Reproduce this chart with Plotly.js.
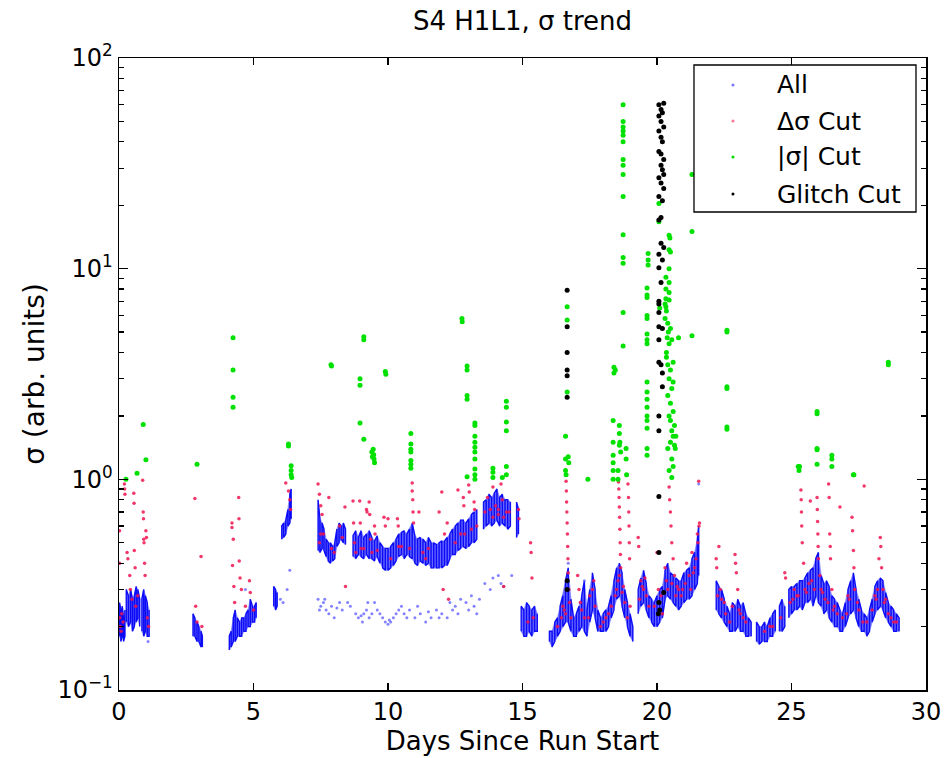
<!DOCTYPE html>
<html><head><meta charset="utf-8">
<script src="https://cdn.plot.ly/plotly-3.0.1.min.js"></script>
<style>html,body{margin:0;padding:0;background:#fff}#chart{width:945px;height:758px}</style>
</head><body><div id="chart"></div>
<script>
// ---- "All" samples: per-time range of the dense band (null = gap in data) ----
const bandT = [0.02,0.07,0.12,0.17,0.22,null,
 0.27,0.35,0.43,0.5,0.57,0.64,0.7,0.77,null,
 0.85,0.92,0.98,1.05,1.12,null,
 2.75,2.82,2.9,2.97,3.05,3.1,null,
 4.1,4.17,4.25,4.32,4.4,4.48,4.56,4.64,4.72,4.8,4.88,4.96,5.04,5.1,null,
 5.75,5.82,5.88,null,
 6.05,6.12,6.2,6.28,6.35,6.4,null,
 7.4,7.47,7.55,7.62,7.7,7.78,7.86,7.94,8.02,8.1,8.18,8.26,8.34,8.42,null,
 8.7,8.8,8.9,9.0,9.1,9.2,9.3,9.4,9.5,9.6,9.7,9.8,9.9,10.0,10.1,10.2,10.3,10.4,10.5,10.6,10.7,10.8,10.9,11.0,11.1,11.2,11.3,11.4,11.5,11.6,11.7,11.8,11.9,12.0,12.1,12.2,12.3,12.4,12.5,12.6,12.7,12.8,12.9,13.0,13.1,13.2,13.3,null,
 13.55,13.65,13.75,13.85,13.95,14.05,14.15,14.25,14.35,14.45,14.55,null,
 14.78,14.85,null,
 14.95,15.05,15.15,15.25,15.35,15.45,15.55,null,
 16.0,16.1,16.2,16.3,16.4,16.5,16.6,16.7,16.8,16.9,17.0,17.1,17.2,17.3,17.4,17.5,17.6,17.7,17.8,17.9,18.0,18.1,18.2,18.3,18.4,18.5,18.6,18.7,18.8,18.9,19.0,19.1,null,
 19.3,19.4,19.5,19.6,19.7,19.8,19.9,20.0,20.1,20.2,20.3,20.4,20.5,20.6,20.7,20.8,20.9,21.0,21.1,21.2,21.3,21.4,21.5,21.55,null,
 22.2,22.3,22.4,22.5,22.6,22.7,22.8,22.9,23.0,23.1,23.2,23.3,23.4,23.5,null,
 23.7,23.8,23.9,24.0,24.1,24.2,24.3,24.4,null,
 24.55,24.65,24.75,null,
 24.9,25.0,25.1,25.2,25.3,25.4,25.5,25.6,25.7,25.8,25.9,26.0,26.1,26.2,26.3,26.4,26.5,26.6,26.7,26.8,26.9,27.0,27.1,27.2,27.3,27.4,27.5,27.6,27.7,27.8,27.9,28.0,28.1,28.2,28.3,28.4,28.5,28.6,28.7,28.8,28.9,29.0];
const bandLo = [0.18,0.17,0.18,0.17,0.18,null,
 0.21,0.20,0.21,0.19,0.20,0.21,0.22,0.20,null,
 0.19,0.18,0.19,0.18,0.18,null,
 0.18,0.18,0.17,0.17,0.16,0.16,null,
 0.155,0.16,0.17,0.17,0.18,0.18,0.18,0.19,0.19,0.20,0.20,0.21,0.21,0.22,null,
 0.25,0.24,0.25,null,
 0.52,0.53,0.55,0.60,0.62,0.65,null,
 0.46,0.45,0.47,0.46,0.43,0.41,0.40,0.41,0.42,0.48,0.50,0.52,0.50,0.49,null,
 0.43,0.42,0.44,0.43,0.42,0.44,0.42,0.42,0.41,0.43,0.40,0.38,0.37,0.37,0.38,0.39,0.41,0.43,0.44,0.42,0.44,0.43,0.42,0.40,0.39,0.41,0.40,0.39,0.40,0.38,0.38,0.38,0.38,0.38,0.39,0.39,0.42,0.44,0.44,0.46,0.47,0.48,0.47,0.48,0.50,0.50,0.52,null,
 0.58,0.60,0.62,0.60,0.62,0.64,0.60,0.62,0.60,0.58,0.60,null,
 0.53,0.55,null,
 0.19,0.18,0.18,0.19,0.18,0.19,0.19,null,
 0.17,0.16,0.17,0.18,0.19,0.20,0.21,0.21,0.19,0.18,0.18,0.19,0.20,0.19,0.18,0.21,0.24,0.22,0.19,0.19,0.19,0.19,0.20,0.22,0.24,0.27,0.28,0.25,0.22,0.20,0.18,0.17,null,
 0.23,0.25,0.26,0.24,0.22,0.21,0.20,0.20,0.21,0.22,0.27,0.28,0.27,0.26,0.25,0.24,0.25,0.26,0.27,0.27,0.28,0.30,0.32,0.35,null,
 0.24,0.23,0.22,0.21,0.20,0.19,0.19,0.19,0.20,0.19,0.19,0.18,0.18,0.18,null,
 0.17,0.165,0.17,0.17,0.17,0.18,0.18,0.19,null,
 0.19,0.19,0.20,null,
 0.22,0.23,0.24,0.24,0.25,0.24,0.26,0.26,0.27,0.25,0.28,0.26,0.25,0.23,0.24,0.22,0.21,0.20,0.20,0.19,0.19,0.20,0.22,0.23,0.24,0.22,0.20,0.19,0.19,0.18,0.19,0.21,0.23,0.24,0.25,0.24,0.22,0.21,0.20,0.19,0.19,0.19];
const bandHi = [0.26,0.24,0.25,0.22,0.24,null,
 0.30,0.28,0.30,0.27,0.28,0.31,0.30,0.27,null,
 0.27,0.30,0.28,0.26,0.24,null,
 0.23,0.22,0.21,0.20,0.19,0.18,null,
 0.18,0.19,0.22,0.24,0.22,0.21,0.22,0.22,0.23,0.24,0.27,0.25,0.25,0.26,null,
 0.31,0.30,0.29,null,
 0.60,0.62,0.64,0.72,0.85,0.90,null,
 0.80,0.65,0.62,0.58,0.52,0.50,0.50,0.48,0.50,0.58,0.62,0.60,0.62,0.58,null,
 0.54,0.57,0.53,0.57,0.53,0.55,0.57,0.53,0.51,0.54,0.50,0.48,0.47,0.47,0.48,0.50,0.52,0.55,0.56,0.57,0.55,0.58,0.62,0.54,0.52,0.53,0.52,0.50,0.53,0.50,0.50,0.49,0.50,0.51,0.51,0.53,0.55,0.58,0.60,0.62,0.64,0.64,0.62,0.65,0.68,0.70,0.72,null,
 0.78,0.80,0.85,0.82,0.86,0.90,0.82,0.85,0.80,0.80,0.78,null,
 0.78,0.72,null,
 0.25,0.24,0.26,0.25,0.24,0.25,0.23,null,
 0.19,0.19,0.21,0.22,0.25,0.28,0.33,0.38,0.27,0.22,0.23,0.25,0.28,0.33,0.24,0.30,0.36,0.30,0.24,0.22,0.23,0.24,0.25,0.28,0.33,0.38,0.40,0.36,0.30,0.26,0.23,0.20,null,
 0.30,0.34,0.37,0.32,0.28,0.27,0.26,0.28,0.30,0.31,0.37,0.40,0.36,0.35,0.34,0.33,0.33,0.36,0.37,0.38,0.42,0.45,0.52,0.60,null,
 0.33,0.31,0.30,0.27,0.25,0.23,0.26,0.25,0.27,0.25,0.26,0.23,0.22,0.21,null,
 0.21,0.20,0.20,0.21,0.20,0.22,0.23,0.24,null,
 0.25,0.27,0.25,null,
 0.30,0.31,0.31,0.32,0.33,0.33,0.34,0.36,0.37,0.38,0.42,0.45,0.35,0.32,0.33,0.31,0.28,0.27,0.26,0.24,0.23,0.26,0.30,0.33,0.36,0.30,0.27,0.24,0.23,0.22,0.24,0.27,0.31,0.33,0.34,0.33,0.29,0.26,0.25,0.24,0.23,0.22];

// ---- "All" isolated samples ----
const allX = [6.0,6.1,6.25,6.35,
 7.4,7.5,7.6,7.7,7.8,7.9,8.0,8.2,8.3,8.5,8.8,8.9,9.0,9.1,9.2,9.3,9.4,9.5,9.6,9.8,
 9.9,10.0,10.1,10.2,10.4,10.5,10.6,10.8,11.0,11.2,11.4,11.6,11.8,12.0,12.2,12.4,12.5,12.7,12.9,13.0,
 13.2,13.4,13.6,13.8,13.9,14.1,14.2,14.3,14.6,1.08,4.7,16.7,17.3,21.55,
 7.45,7.65,8.1,8.6,9.05,9.25,9.7,10.05,10.3,10.7,11.1,11.5,11.9,12.3,12.6,13.1,13.3];
const allY = [0.27,0.26,0.30,0.37,
 0.27,0.25,0.26,0.24,0.23,0.25,0.22,0.26,0.24,0.26,0.23,0.22,0.225,0.23,0.24,0.22,0.23,0.26,0.24,0.22,
 0.21,0.205,0.21,0.22,0.24,0.25,0.23,0.24,0.22,0.23,0.21,0.22,0.24,0.23,0.22,0.24,0.25,0.27,0.26,0.24,
 0.25,0.27,0.32,0.30,0.34,0.35,0.32,0.31,0.35,0.17,0.30,0.40,0.33,0.95,
 0.24,0.27,0.245,0.25,0.21,0.26,0.23,0.215,0.23,0.22,0.25,0.235,0.22,0.26,0.23,0.28,0.23];

// ---- Δσ Cut samples [day, sigma] ----
const dsigPts = [[0.02,0.57],[0.02,0.40],[0.03,0.22],[0.05,0.20],[0.08,0.19],[0.1,0.23],[0.15,0.21],[0.2,0.95],[0.21,0.9],[0.22,0.85],
 [0.3,0.45],[0.33,0.42],[0.4,0.35],[0.42,0.3],[0.48,0.27],[0.55,0.86],[0.56,0.77],[0.57,0.46],[0.6,0.38],[0.62,0.25],[0.7,0.28],
 [0.88,0.99],[0.9,0.7],[0.91,0.65],[0.92,0.52],[0.93,0.5],[0.95,0.4],[0.97,0.35],[1.0,0.57],[1.02,0.53],[1.05,0.22],[1.1,0.2],
 [2.82,0.81],[2.85,0.25],[2.9,0.21],[3.05,0.43],[3.08,0.2],
 [4.2,0.62],[4.2,0.59],[4.22,0.39],[4.25,0.52],[4.27,0.31],[4.3,0.26],[4.45,0.82],[4.46,0.65],[4.47,0.41],[4.5,0.34],[4.55,0.3],[4.7,0.25],[4.85,0.33],[4.88,0.29],[5.0,0.24],
 [6.2,0.96],[6.3,0.88],[6.35,0.8],[6.38,0.72],
 [7.4,0.95],[7.45,0.85],[7.5,0.75],[7.55,0.68],[7.6,0.55],[7.8,0.82],[7.9,0.47],[8.0,0.45],[8.2,0.6],[8.4,0.74],[8.42,0.31],
 [8.7,0.79],[8.72,0.62],[8.75,0.5],[8.95,0.79],[8.97,0.62],[9.0,0.47],[9.2,0.72],[9.22,0.7],[9.3,0.78],[9.32,0.68],[9.35,0.52],
 [9.5,0.6],[9.52,0.55],[9.6,0.46],[9.85,0.66],[9.9,0.6],[10.0,0.65],[10.1,0.42],[10.35,0.65],[10.38,0.6],[10.5,0.48],
 [10.9,0.96],[10.9,0.88],[10.92,0.8],[10.93,0.7],[10.95,0.62],[11.15,0.7],[11.3,0.45],[11.5,0.47],[11.9,0.7],[12.0,0.87],[12.05,0.3],
 [12.1,0.55],[12.2,0.62],[12.25,0.27],[12.6,0.89],[12.8,0.82],[12.82,0.75],[12.85,0.55],[13.0,0.94],[13.02,0.87],[13.2,0.78],[13.22,0.72],[13.3,0.6],
 [13.7,0.82],[13.8,0.72],[13.9,0.92],[14.0,0.75],[14.1,0.68],[14.2,0.95],[14.25,0.8],[14.3,0.31],[14.4,0.7],[14.85,0.72],[14.87,0.65],
 [15.2,0.21],[15.3,0.5],[15.32,0.45],[15.35,0.34],[15.4,0.22],
 [16.3,0.2],[16.5,0.25],[16.62,0.98],[16.63,0.88],[16.64,0.78],[16.65,0.7],[16.66,0.62],[16.67,0.55],[16.68,0.48],[16.69,0.42],[16.7,0.36],[16.72,0.3],[16.75,0.26],[16.6,0.23],
 [17.05,0.35],[17.1,0.3],[17.15,0.26],[17.3,0.22],[17.5,0.28],[17.6,0.3],[17.7,0.25],[18.0,0.21],[18.2,0.23],
 [18.57,0.97],[18.58,0.9],[18.59,0.82],[18.6,0.74],[18.61,0.66],[18.62,0.58],[18.63,0.5],[18.64,0.44],[18.65,0.38],[18.55,0.33],[18.5,0.3],[18.7,0.29],[18.8,0.26],
 [18.92,0.95],[18.94,0.82],[18.95,0.7],[18.96,0.6],[18.97,0.5],[18.98,0.42],[19.0,0.25],
 [19.3,0.53],[19.32,0.48],[19.4,0.33],[19.5,0.3],[19.6,0.28],[19.9,0.25],[20.0,0.45],[20.05,0.3],[20.1,0.26],[20.2,0.23],[20.3,0.38],
 [20.45,0.92],[20.47,0.8],[20.5,0.7],[20.52,0.6],[20.55,0.5],[20.6,0.42],[20.65,0.35],[20.8,0.3],[20.9,0.28],[21.1,0.4],[21.2,0.35],[21.3,0.45],[21.4,0.38],
 [21.5,0.55],[21.52,0.5],[21.55,0.98],[21.56,0.6],[21.58,0.62],
 [22.2,0.42],[22.22,0.38],[22.3,0.48],[22.35,0.3],[22.5,0.26],[22.8,0.25],[22.9,0.44],[22.92,0.4],[22.95,0.36],[23.0,0.3],[23.1,0.23],[23.3,0.21],[24.0,0.19],[24.3,0.2],
 [24.75,0.36],[24.78,0.34],[25.1,0.3],[25.2,0.28],[25.35,0.89],[25.36,0.8],[25.37,0.7],[25.38,0.6],[25.4,0.5],[25.45,0.4],[25.5,0.3],[25.7,0.79],[25.75,0.33],
 [25.95,0.82],[25.96,0.72],[25.97,0.63],[25.98,0.55],[25.99,0.48],[26.0,0.42],[26.05,0.35],[26.1,0.3],[26.38,0.95],[26.4,0.82],[26.42,0.55],[26.44,0.48],[26.45,0.42],
 [26.5,0.3],[26.6,0.25],[26.8,0.74],[26.9,0.22],[27.1,0.28],[27.25,0.66],[27.27,0.57],[27.3,0.46],[27.32,0.38],[27.5,0.24],[27.7,0.93],[27.8,0.21],
 [28.1,0.28],[28.25,0.42],[28.3,0.53],[28.32,0.48],[28.35,0.38],[28.4,0.3],[28.5,0.27],[28.7,0.22],[28.9,0.21],
 [16.45,0.22],[16.55,0.24],[16.8,0.22],[17.2,0.24],[17.45,0.22],[17.65,0.33],[17.9,0.2],[18.1,0.22],[18.3,0.25],[18.45,0.28],[18.6,0.35],[18.75,0.31],[18.9,0.22],
 [19.35,0.27],[19.45,0.31],[19.55,0.34],[19.7,0.25],[20.15,0.28],[20.35,0.33],[20.4,0.3],[20.55,0.32],[20.7,0.28],[20.75,0.31],[20.95,0.3],[21.05,0.32],[21.25,0.3],[21.35,0.36],[21.45,0.42],
 [22.25,0.28],[22.4,0.27],[22.55,0.23],[22.7,0.21],[23.05,0.24],[23.2,0.22],[24.2,0.2],[24.6,0.22],[24.95,0.26],[25.05,0.27],[25.25,0.28],[25.55,0.29],[25.65,0.32],[25.85,0.3],
 [26.15,0.29],[26.25,0.27],[26.35,0.26],[26.55,0.24],[26.7,0.23],[27.05,0.23],[27.15,0.27],[27.35,0.3],[27.45,0.26],[27.65,0.21],[28.0,0.24],[28.15,0.27],[28.2,0.3],[28.45,0.26],[28.6,0.23],[28.8,0.21],
 [7.45,0.5],[7.5,0.55],[8.3,0.53],[8.8,0.45],[9.1,0.47],[9.4,0.45],[10.4,0.48],[10.8,0.47],[11.4,0.42],[12.5,0.5],[12.7,0.55],[13.1,0.58],[13.6,0.7],[13.9,0.66],[14.1,0.72],[14.3,0.66],[14.5,0.7]];

// ---- |σ| Cut samples [day, sigma] ----
const absPts = [[0.26,1.0],[0.67,1.07],[0.9,1.82],[1.0,1.24],[2.9,1.18],[4.24,4.7],[4.24,3.3],[4.24,2.45],[4.24,2.2],
 [6.3,1.47],[6.3,1.44],[6.4,1.16],[6.4,1.1],[6.4,1.05],[6.42,1.02],[7.88,3.5],[7.9,3.45],[8.96,3.0],[8.96,2.8],[9.1,4.75],[9.1,4.6],
 [8.96,1.85],[9.1,1.55],[9.4,1.35],[9.42,1.28],[9.45,1.39],[9.47,1.31],[9.48,1.25],[9.5,1.2],[9.9,3.25],[9.92,3.15],
 [10.85,1.65],[10.85,1.47],[10.85,1.39],[10.85,1.35],[10.85,1.23],[10.85,1.18],[10.85,1.13],
 [12.75,5.8],[12.76,5.6],[12.94,3.45],[12.94,3.3],[12.94,2.5],[12.94,2.4],[12.94,1.03],
 [13.23,1.85],[13.23,1.8],[13.23,1.6],[13.23,1.5],[13.23,1.42],[13.23,1.35],[13.23,1.25],[13.23,1.12],[13.23,1.05],[13.23,1.0],
 [13.9,1.13],[13.9,1.08],[13.9,1.02],[14.4,2.35],[14.4,2.2],[14.4,1.87],[14.4,1.7],[14.4,1.15],[14.4,1.05],[14.25,1.02],
 [16.6,1.6],[16.6,1.25],[16.6,1.1],[16.62,1.05],[16.7,1.28],[16.72,1.2],[16.66,6.6],[16.66,5.7],[16.66,2.6],[17.43,1.0],
 [18.37,1.9],[18.37,1.5],[18.37,1.3],[18.37,1.2],[18.37,1.1],[18.37,1.0],[18.4,3.4],[18.4,3.2],[18.45,3.3],
 [18.6,1.8],[18.6,1.65],[18.62,1.5],[18.6,1.45],[18.65,1.35],[18.55,1.1],[18.55,1.0],
 [18.74,60],[18.74,50],[18.74,47],[18.74,45],[18.74,43],[18.74,40],[18.74,33],[18.74,31],[18.74,28],[18.74,22],[18.74,14.5],[18.74,11.3],[18.74,10.6],[18.74,6.2],[18.74,4.3],
 [18.85,1.4],[18.85,1.25],[18.87,1.05],
 [19.63,8.1],[19.63,7.5],[19.63,6.0],[19.63,5.8],[19.63,4.9],[19.63,4.6],[19.63,4.4],[19.63,2.9],[19.63,2.6],[19.63,2.4],[19.63,2.2],[19.63,2.0],[19.63,1.9],[19.63,1.75],[19.63,1.4],[19.63,1.3],
 [19.67,11.8],[19.67,11.0],[19.67,10.4],[19.63,7.3],
 [20.07,20.4],[20.07,16.7],[20.1,6.5],[20.45,14.4],[20.45,12.3],[20.45,10.0],[20.45,8.6],[20.45,7.7],[20.45,7.1],[20.33,9.1],[20.33,8.0],[20.33,7.2],[20.33,6.6],[20.48,14.0],[20.5,12.0],
 [20.3,6.8],[20.35,6.3],[20.4,5.5],[20.42,5.0],[20.38,4.7],[20.45,4.4],[20.35,4.0],[20.4,3.5],[20.5,3.3],[20.45,3.0],[20.55,2.7],[20.4,2.5],[20.5,2.3],[20.6,2.1],
 [20.45,2.0],[20.5,1.9],[20.65,1.8],[20.55,1.7],[20.6,1.6],[20.5,1.5],[20.65,1.45],[20.4,1.4],[20.55,1.25],[20.6,1.15],[20.45,1.1],[20.55,1.02],[20.7,1.6],[20.68,1.4],
 [20.3,5.8],[20.5,5.2],[20.55,4.6],[20.35,3.8],[20.6,3.6],[20.6,2.9],
 [20.8,4.7],[21.3,4.8],[21.3,28],[21.3,15],[22.6,5.1],[22.6,5.0],[22.6,2.75],[22.6,2.7],[22.6,1.77],[22.6,1.73],
 [25.25,1.15],[25.28,1.1],[25.3,1.15],[25.95,2.1],[25.95,2.05],[25.95,1.4],[25.95,1.38],[25.95,1.18],[26.5,1.3],[26.5,1.25],[26.5,1.15],
 [27.3,1.05],[27.32,1.05],[28.6,3.6],[28.6,3.5]];

// ---- Glitch Cut samples [day, sigma] ----
const glitchPts = [[16.66,7.9],[16.66,5.3],[16.66,4.0],[16.66,3.3],[16.66,3.1],[16.66,2.45],[16.66,0.33],[16.66,0.30],
 [20.07,60],[20.15,57],[20.2,55],[20.25,61],[20.07,53],[20.15,50],[20.25,47],[20.07,45],[20.15,42],[20.2,40],[20.07,36],[20.15,35],[20.25,33],
 [20.15,31],[20.2,29.5],[20.25,28],[20.07,27],[20.15,25.5],[20.25,24],[20.07,22],[20.2,21],[20.15,17.5],[20.07,17],[20.15,13.2],[20.25,12.6],
 [20.07,11.7],[20.2,11],[20.07,10.1],[20.15,8.6],[20.07,7.0],[20.07,6.8],[20.07,6.2],[20.07,5.3],[20.2,5.2],[20.07,4.6],[20.07,3.6],[20.15,3.5],
 [20.2,3.2],[20.2,2.75],[20.07,2.0],[20.07,1.7],[20.07,0.83],[20.07,0.45],[20.25,0.29],[20.07,0.26],[20.1,0.24],[20.05,0.23]];

// ---- axis ticks ----
const xTickVals = [0,5,10,15,20,25,30];
const yTickVals = [0.1,1,10,100];
const yTickText = ['10<sup>\u22121</sup>','10<sup>0</sup>','10<sup>1</sup>','10<sup>2</sup>'];
const yMinorVals = [0.2,0.3,0.4,0.5,0.6,0.7,0.8,0.9,2,3,4,5,6,7,8,9,20,30,40,50,60,70,80,90];
const legendLabels = ['All','\u0394\u03c3 Cut','|\u03c3| Cut','Glitch Cut'];
const legendColors = ['rgb(120,120,255)','rgb(255,120,150)','rgb(0,220,0)','black'];

// band: filled envelope per contiguous segment + sample strokes
const bx = [], by = [], fx = [], fy = [];
let k = 0, segT = [], segLo = [], segHi = [];
function flush() {
  if (!segT.length) return;
  fx.push(...segT, ...segT.slice().reverse(), null);
  fy.push(...segLo, ...segHi.slice().reverse(), null);
  segT = []; segLo = []; segHi = [];
}
for (let i = 0; i < bandT.length; i++) {
  if (bandT[i] === null) { bx.push(null); by.push(null); k = 0; flush(); continue; }
  segT.push(bandT[i]); segLo.push(bandLo[i]); segHi.push(bandHi[i]);
  bx.push(bandT[i], bandT[i]);
  if (k % 2 === 0) by.push(bandLo[i], bandHi[i]); else by.push(bandHi[i], bandLo[i]);
  k++;
}
flush();

const traces = [
  {x: fx, y: fy, type: 'scatter', mode: 'lines', fill: 'toself', fillcolor: 'rgba(45,45,255,0.72)', line: {width: 1.2, color: 'rgba(120,120,255,0.55)'}, showlegend: false, hoverinfo: 'skip'},
  {x: bx, y: by, type: 'scatter', mode: 'lines', line: {color: 'rgba(0,0,245,0.9)', width: 1.4}, showlegend: false, hoverinfo: 'skip'},
  {x: allX, y: allY, type: 'scatter', mode: 'markers', name: 'All', marker: {size: 3, color: 'rgba(90,90,255,0.75)'}},
  {x: dsigPts.map(p => p[0]), y: dsigPts.map(p => p[1]), type: 'scatter', mode: 'markers', name: legendLabels[1], marker: {size: 3.5, color: 'rgba(240,20,80,0.85)'}},
  {x: absPts.map(p => p[0]), y: absPts.map(p => p[1]), type: 'scatter', mode: 'markers', name: legendLabels[2], marker: {size: 5, color: 'rgb(0,225,0)'}},
  {x: glitchPts.map(p => p[0]), y: glitchPts.map(p => p[1]), type: 'scatter', mode: 'markers', name: legendLabels[3], marker: {size: 5, color: 'black'}}
];

// custom legend (MATLAB style box)
const L = {x0: 0.7125, x1: 0.9876, y0: 0.7563, y1: 0.9889, mx: 0.7608, tx: 0.8129, ys: [0.9573, 0.9003, 0.8434, 0.7848]};
const shapes = [{type: 'rect', xref: 'paper', yref: 'paper', x0: L.x0, x1: L.x1, y0: L.y0, y1: L.y1, line: {color: 'black', width: 1.3}, fillcolor: 'white', layer: 'above'}];
const annotations = [];
legendLabels.forEach((lab, i) => {
  shapes.push({type: 'circle', xref: 'paper', yref: 'paper', x0: L.mx - 0.0019, x1: L.mx + 0.0019, y0: L.ys[i] - 0.0024, y1: L.ys[i] + 0.0024, line: {width: 0}, fillcolor: legendColors[i], layer: 'above'});
  annotations.push({xref: 'paper', yref: 'paper', x: L.tx, y: L.ys[i], xanchor: 'left', yanchor: 'middle', text: lab, showarrow: false, font: {size: 25, color: 'black'}});
});

const layout = {
  width: 945, height: 758,
  margin: {l: 119, r: 19, t: 58, b: 68},
  paper_bgcolor: 'white', plot_bgcolor: 'white',
  font: {family: 'DejaVu Sans, sans-serif', size: 22, color: 'black'},
  showlegend: false,
  title: {text: 'S4 H1L1, \u03c3 trend', font: {size: 26}, x: 0.5, xref: 'paper', xanchor: 'center', y: 0.973, yref: 'container', yanchor: 'middle'},
  xaxis: {range: [0, 30], tickmode: 'array', tickvals: xTickVals, ticks: 'inside', ticklen: 7, tickwidth: 1.2, tickcolor: 'black',
          showline: true, linecolor: 'black', linewidth: 1.5, mirror: 'ticks', showgrid: false, zeroline: false,
          tickfont: {size: 24}, title: {text: 'Days Since Run Start', font: {size: 26}, standoff: 2}},
  yaxis: {type: 'log', range: [-1, 2], tickmode: 'array', tickvals: yTickVals, ticktext: yTickText, ticks: 'inside', ticklen: 9, tickwidth: 1.2, tickcolor: 'black',
          minor: {tickmode: 'array', tickvals: yMinorVals, ticks: 'inside', ticklen: 5, tickwidth: 1.2, tickcolor: 'black', showgrid: false},
          showline: true, linecolor: 'black', linewidth: 1.5, mirror: 'ticks', showgrid: false, zeroline: false,
          tickfont: {size: 24}, title: {text: '\u03c3 (arb. units)', font: {size: 28}, standoff: 4}},
  shapes: shapes,
  annotations: annotations
};

Plotly.newPlot('chart', traces, layout, {displayModeBar: false, staticPlot: true});
</script></body></html>
